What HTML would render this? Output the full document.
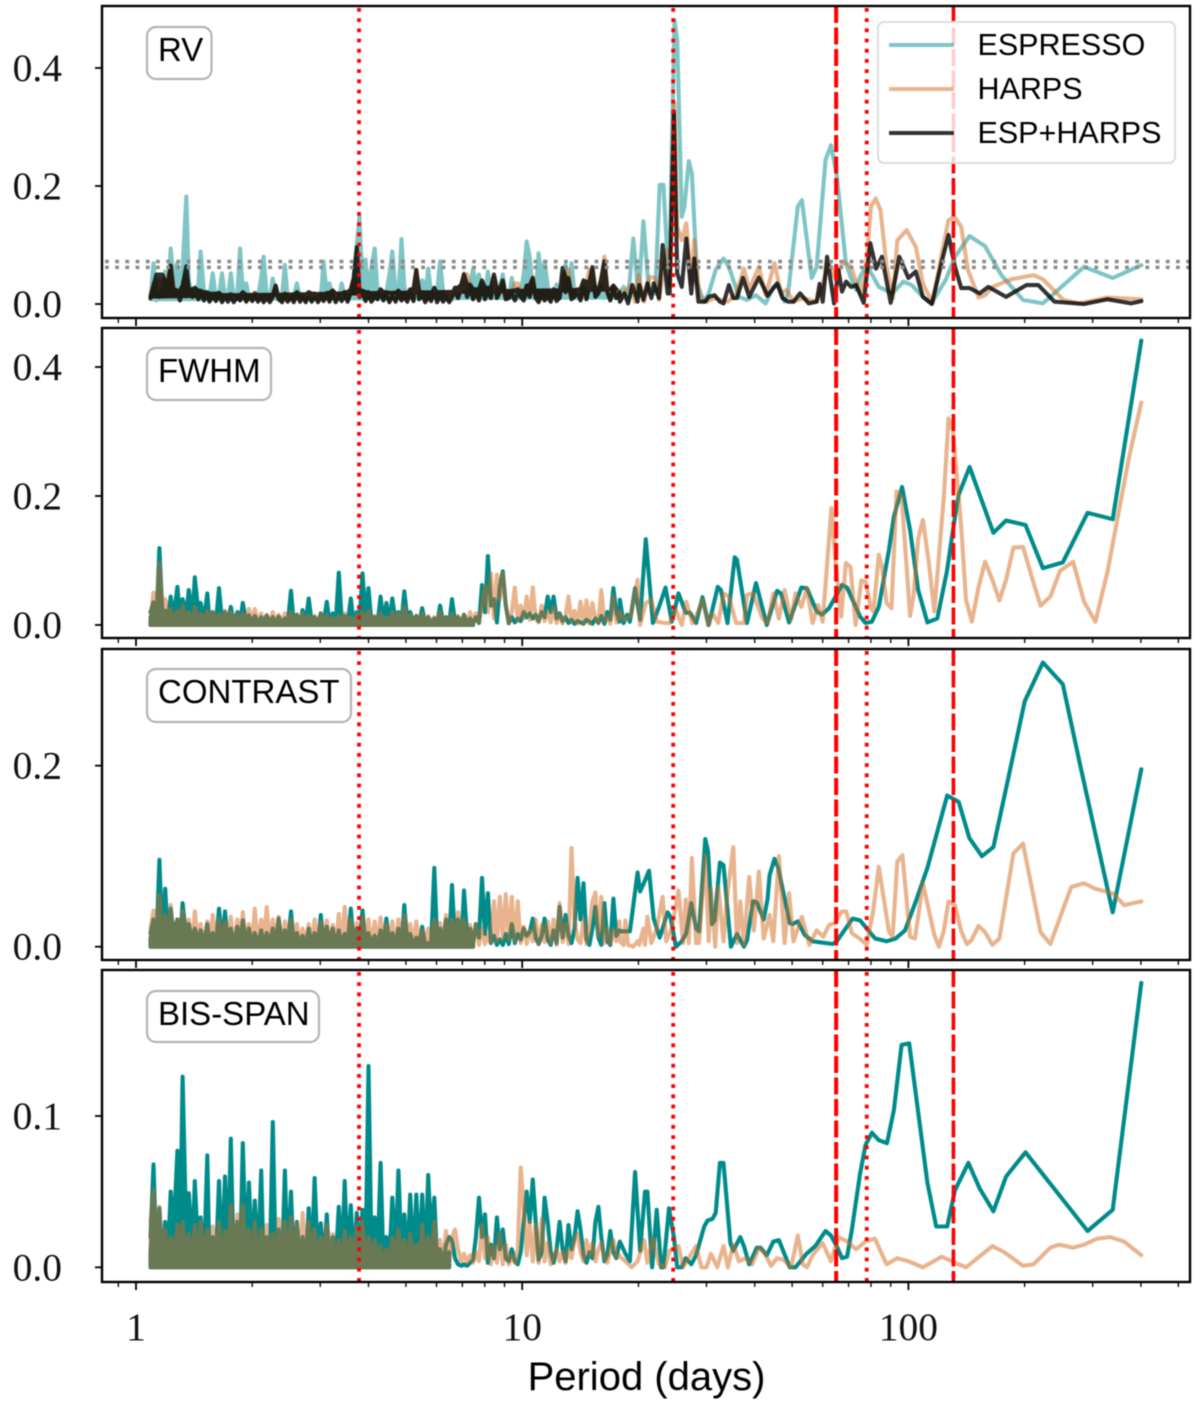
<!DOCTYPE html>
<html lang="en">
<head>
<meta charset="utf-8">
<title>Periodograms of RV, FWHM, contrast and BIS-SPAN</title>
<style>
html,body{margin:0;padding:0;background:#fff;width:1200px;height:1407px;overflow:hidden}
svg{display:block;filter:blur(0.45px)}
</style>
</head>
<body>
<svg id="figure" xmlns="http://www.w3.org/2000/svg" width="1200" height="1407" viewBox="0 0 1200 1407"></svg>
<script>
/* Period grid for the densely sampled short-period part (days) */
const densePeriods = [
1.09,1.11,1.13,1.15,1.17,1.19,1.21,1.23,1.25,1.28,
1.30,1.32,1.35,1.37,1.40,1.42,1.45,1.47,1.50,1.53,
1.55,1.58,1.61,1.64,1.67,1.70,1.73,1.76,1.79,1.83,
1.86,1.89,1.93,1.96,2.00,2.03,2.07,2.11,2.14,2.18,
2.22,2.26,2.30,2.34,2.39,2.43,2.47,2.52,2.56,2.61,
2.66,2.70,2.75,2.80,2.85,2.90,2.96,3.01,3.06,3.12,
3.17,3.23,3.29,3.35,3.41,3.47,3.53,3.60,3.66,3.73,
3.79,3.86,3.93,4.00,4.07,4.15,4.22,4.30,4.37,4.45,
4.53,4.61,4.70,4.78,4.87,4.95,5.04,5.13,5.23,5.32,
5.41,5.51,5.61,5.71,5.81,5.92,6.02,6.13,6.24,6.35,
6.47,6.58,6.70,6.82,6.95,7.07,7.20,7.33,7.46,7.59,
7.73,7.87,8.01,8.15,8.30,8.45,8.60,8.75,8.91,9.07,
9.23,9.40,9.57,9.74,9.91,10.09,10.27,10.46,10.65,10.84,
11.03,11.23,11.43,11.64,11.85,12.06,12.28,12.5,12.72,12.95,
13.18,13.42,13.66,13.91,14.16,14.41,14.67,14.93,15.2,15.47,
15.75,16.03,16.32,16.61,16.91,17.22,17.53,17.85];

/* ---------- RV ---------- */
const rvEspressoDense = [
.01,.069,.006,.02,.012,.055,.02,.094,.045,.07,
.02,.06,.182,.04,.01,.025,.032,.089,.02,.015,
.012,.052,.01,.015,.052,.012,.01,.052,.012,.02,
.094,.02,.035,.01,.012,.015,.012,.045,.08,.015,
.01,.043,.01,.012,.015,.066,.01,.01,.012,.035,
.01,.012,.008,.01,.01,.008,.012,.01,.072,.012,
.035,.01,.012,.01,.035,.012,.015,.012,.03,.1,
.148,.02,.075,.01,.06,.094,.02,.012,.015,.02,
.05,.089,.02,.012,.11,.03,.012,.02,.012,.01,
.012,.04,.012,.06,.02,.01,.02,.072,.02,.01,
.008,.01,.012,.015,.01,.02,.012,.03,.06,.03,
.05,.015,.012,.055,.02,.012,.02,.03,.05,.012,
.01,.044,.012,.01,.02,.05,.106,.08,.02,.015,
.086,.04,.072,.03,.012,.015,.033,.012,.02,.066,
.02,.069,.02,.01,.012,.03,.012,.02,.01,.03,
.012,.03,.01,.02,.012,.03,.01,.014];
const rvEspressoLong = [[17.9,.015],[18.3,.029],[18.8,.007],[19.4,.111],[20,.012],[20.6,.14],[21.3,.018],[22.1,.018],[22.7,.202],[23.2,.202],[24,.029],[24.8,.481],[25.2,.447],[25.9,.148],[26.3,.165],[27,.242],[27.5,.221],[28.4,.035],[29.5,.004],[30.4,.018],[31.7,.058],[33.2,.077],[34.3,.063],[36.4,.012],[38.2,.007],[40.3,.015],[42.7,.001],[44.7,.029],[46.2,.032],[47.8,.004],[48.8,.018],[51.7,.165],[53,.176],[56.2,.044],[57.9,.063],[61,.244],[63,.269],[65.2,.219],[68.9,.069],[71,.044],[73.2,.024],[75,.046],[78,.066],[83.8,.029],[91,.018],[97,.038],[102,.032],[108,.015],[114.7,.001],[125,.041],[132,.08],[144,.115],[158,.098],[174,.049],[198,.007],[223,.001],[285,.063],[338,.044],[401,.066]];

const rvHarpsDense = [
.012,.035,.03,.04,.035,.045,.025,.066,.03,.02,
.012,.03,.05,.02,.014,.025,.012,.02,.01,.018,
.006,.016,.008,.018,.006,.015,.008,.016,.006,.014,
.008,.018,.006,.016,.008,.02,.006,.014,.005,.012,
.006,.015,.03,.01,.005,.018,.006,.015,.005,.02,
.006,.015,.005,.02,.006,.018,.005,.015,.008,.018,
.006,.024,.005,.018,.008,.02,.006,.024,.04,.03,
.015,.022,.008,.02,.006,.015,.012,.024,.008,.02,
.005,.018,.006,.022,.008,.016,.006,.024,.008,.058,
.012,.02,.005,.016,.008,.026,.005,.018,.006,.015,
.005,.016,.028,.012,.03,.052,.05,.03,.01,.024,
.008,.036,.01,.026,.012,.046,.012,.024,.036,.01,
.012,.02,.035,.035,.015,.008,.03,.015,.046,.012,
.005,.02,.008,.016,.006,.024,.008,.012,.05,.024,
.058,.012,.016,.024,.008,.036,.01,.058,.058,.016,
.022,.04,.08,.024,.008,.03,.012,.024];
const rvHarpsLong = [[17.9,.007],[19,.032],[19.6,.004],[20,.049],[20.7,.004],[21.4,.046],[22.1,.044],[22.6,.007],[23.7,.092],[24.1,.035],[24.8,.34],[25.2,.131],[25.9,.108],[26.6,.137],[27.4,.035],[27.9,.108],[28.8,.012],[30,.004],[31.5,.01],[34,.004],[35.7,.015],[37.5,.06],[38.7,.024],[41,.063],[42.7,.015],[45,.069],[46.8,.018],[48.3,.024],[50.4,.004],[53.3,.01],[57.9,.004],[60,.035],[62.3,.069],[64.5,.046],[68,.072],[71,.063],[75,.018],[77.5,.052],[80,.165],[82.3,.179],[84.7,.159],[87.8,.063],[91.2,.01],[93.6,.108],[99,.125],[104.5,.097],[109,.035],[115.5,.001],[122,.086],[127,.142],[131.5,.148],[137,.131],[142.6,.058],[152,.011],[158,.015],[165,.029],[185,.042],[211,.049],[223,.042],[252,.007],[277,.001],[328,.011],[401,.008]];

const rvCombinedDense = [
.01,.025,.04,.012,.04,.015,.03,.052,.02,.018,
.006,.025,.051,.02,.012,.022,.008,.018,.006,.016,
.004,.014,.005,.015,.003,.012,.004,.013,.003,.012,
.006,.016,.004,.012,.005,.014,.004,.012,.003,.01,
.003,.012,.025,.008,.003,.014,.004,.012,.003,.016,
.004,.012,.003,.016,.004,.014,.003,.012,.005,.015,
.004,.018,.003,.014,.005,.016,.004,.02,.035,.077,
.012,.018,.005,.016,.004,.012,.008,.02,.006,.016,
.003,.015,.004,.018,.006,.012,.004,.02,.005,.046,
.008,.016,.003,.012,.005,.022,.003,.014,.004,.012,
.003,.012,.022,.01,.026,.04,.012,.026,.008,.02,
.006,.032,.008,.022,.01,.04,.01,.02,.032,.008,
.01,.018,.006,.02,.012,.006,.025,.012,.035,.01,
.003,.015,.006,.012,.004,.02,.005,.01,.049,.02,
.035,.008,.012,.02,.006,.032,.008,.03,.05,.012,
.018,.035,.058,.02,.006,.025,.01,.02];
const rvCombinedLong = [[17.9,.004],[18.4,.018],[18.8,.001],[19.3,.032],[19.9,.004],[20.1,.032],[20.6,.007],[21.1,.035],[21.6,.01],[21.9,.035],[22.6,.01],[23.1,.1],[23.8,.018],[24.1,.018],[24.7,.326],[25.2,.052],[25.9,.029],[26.6,.111],[27.4,.018],[27.9,.077],[28.6,.004],[29.8,.004],[30.4,.012],[31.5,.015],[32.5,.004],[33.2,.001],[34.3,.032],[35.2,.01],[36,.01],[37.3,.044],[38.7,.012],[41,.045],[43.2,.014],[45.7,.035],[47.2,.01],[48.8,.004],[50.4,.004],[52.4,.018],[55.2,.001],[57.9,.004],[58.9,.034],[60,.004],[61.6,.08],[64.2,.001],[65.9,.058],[67.3,.021],[69,.038],[71,.029],[73.2,.032],[76.6,.002],[79.7,.103],[82.5,.06],[85.4,.08],[90,.002],[94.7,.08],[100,.044],[104.5,.055],[109,.012],[115,0],[122,.072],[127,.117],[132,.063],[137,.027],[144,.027],[153,.018],[161,.029],[179,.012],[202,.032],[217,.032],[239,.004],[285,0],[328,.008],[377,.001],[401,.005]];

/* ---------- FWHM ---------- */
const fwhmEspressoDense = [
.02,.035,.008,.119,.02,.022,.012,.044,.01,.059,
.012,.04,.018,.054,.01,.074,.02,.034,.008,.049,
.005,.02,.004,.057,.006,.02,.004,.028,.003,.02,
.004,.034,.003,.015,.004,.014,.003,.012,.002,.015,
.003,.012,.002,.013,.003,.01,.002,.053,.004,.016,
.002,.023,.003,.041,.004,.012,.003,.018,.002,.036,
.004,.018,.003,.081,.008,.014,.002,.041,.003,.02,
.006,.08,.01,.057,.004,.012,.002,.044,.003,.034,
.004,.041,.006,.02,.005,.052,.01,.02,.004,.014,
.003,.026,.002,.012,.003,.01,.002,.03,.004,.012,
.002,.04,.005,.012,.002,.016,.003,.01,.002,.012,
.003,.062,.02,.107,.03,.04,.004,.06,.083,.03,
.003,.012,.004,.01,.006,.02,.012,.018,.01,.016,
.006,.02,.012,.044,.02,.044,.01,.018,.006,.012,
.003,.008,.002,.006,.004,.002,.008,.005,.002,.01,
.003,.014,.002,.02,.008,.057,.02,.005];
const fwhmEspressoLong = [[17.9,.039],[18.3,.003],[18.7,.016],[19,.005],[19.6,.057],[20.2,.008],[20.9,.133],[21.8,.003],[22.6,.028],[23.5,.058],[24.4,.005],[25.4,.049],[26.5,.019],[27.2,.019],[28.2,.003],[29.3,.043],[30.4,0],[32.1,.059],[32.7,.054],[34,.003],[35.5,.105],[36,.101],[38.2,.003],[40.3,.065],[43,0],[45.7,.053],[46.8,.049],[49.1,.004],[52.8,.058],[54.6,.057],[57.9,.021],[59.7,.016],[62.3,.026],[65.2,.047],[67.3,.062],[69.4,.058],[75,.013],[77.5,.003],[80.4,.005],[83.8,.028],[89,.116],[91.7,.168],[96.3,.214],[101,.147],[106,.054],[112,.004],[118.8,.01],[125.8,.083],[132,.168],[135,.202],[144,.245],[166,.143],[179,.162],[201,.155],[223,.088],[251,.097],[291,.174],[338,.164],[401,.441]];

const fwhmHarpsDense = [
.01,.05,.02,.096,.03,.04,.012,.025,.005,.022,
.003,.03,.006,.02,.004,.028,.003,.018,.002,.022,
.002,.02,.003,.018,.002,.022,.001,.02,.002,.016,
.001,.018,.002,.025,.003,.025,.002,.018,.001,.015,
.002,.02,.001,.016,.003,.018,.002,.02,.001,.016,
.002,.018,.001,.015,.002,.014,.001,.018,.002,.015,
.001,.012,.002,.014,.001,.018,.002,.012,.001,.016,
.002,.02,.003,.022,.002,.014,.001,.018,.002,.012,
.002,.02,.001,.018,.003,.028,.002,.016,.001,.014,
.002,.018,.001,.014,.002,.012,.001,.02,.003,.012,
.001,.018,.002,.014,.003,.016,.001,.02,.002,.018,
.004,.03,.06,.02,.08,.01,.078,.04,.08,.03,
.002,.02,.058,.006,.03,.01,.044,.008,.058,.01,
.004,.03,.006,.02,.004,.028,.003,.016,.002,.014,
.044,.004,.022,.002,.036,.002,.038,.002,.034,.01,
.003,.054,.006,.012,.002,.044,.004,.012];
const fwhmHarpsLong = [[17.9,.021],[18.3,.008],[19.1,.013],[19.9,.07],[20.2,0],[20.9,.034],[21.6,.039],[22.3,.005],[23.4,.003],[24.1,.003],[25,.023],[25.9,0],[26.6,.036],[27.6,.003],[28.2,.013],[29.3,.039],[30.3,0],[31.1,.018],[32.2,.003],[33.2,.049],[34.3,.044],[35.8,.003],[37.5,.003],[38.2,.047],[39.6,.049],[41.9,.01],[43.2,.003],[44.7,.049],[46.2,.01],[47.8,.054],[49.7,.008],[51,.049],[52.8,.028],[54.6,.057],[56.5,.003],[58.4,.031],[60,.005],[63.2,.181],[64.8,.096],[67,.013],[68.9,.096],[70.8,.09],[73,0],[75.5,.069],[77.5,.067],[80,.026],[81.2,.021],[83.8,.109],[85.6,.088],[87.8,.034],[90.4,.026],[93.2,.207],[96,.199],[101,.014],[103,.044],[106,.134],[109,.163],[113,.096],[116.7,.021],[123.6,.199],[127,.32],[130.4,.302],[137,.152],[141,.039],[146,.005],[152,.059],[158,.098],[165,.07],[172,.038],[179,.07],[187,.12],[198,.121],[211,.065],[220,.03],[233,.044],[247,.084],[267,.098],[285,.036],[305,.005],[328,.083],[351,.178],[373,.261],[401,.345]];

/* ---------- CONTRAST ---------- */
const contrastEspressoDense = [
.015,.03,.005,.096,.01,.064,.008,.042,.015,.03,
.004,.048,.01,.025,.003,.02,.005,.018,.003,.025,
.003,.015,.002,.042,.004,.039,.003,.02,.002,.022,
.003,.029,.002,.02,.003,.015,.002,.018,.002,.015,
.003,.02,.002,.031,.003,.018,.002,.039,.003,.015,
.002,.012,.001,.02,.002,.015,.002,.035,.003,.022,
.004,.02,.002,.018,.003,.014,.002,.042,.004,.02,
.003,.04,.002,.015,.003,.012,.001,.018,.002,.031,
.002,.015,.003,.02,.002,.046,.004,.014,.001,.01,
.002,.022,.001,.004,.002,.087,.008,.02,.004,.03,
.003,.068,.006,.03,.002,.062,.012,.02,.004,.025,
.01,.076,.014,.059,.004,.012,.002,.008,.002,.014,
.003,.025,.004,.014,.008,.02,.012,.016,.031,.01,
.003,.012,.031,.008,.002,.018,.004,.044,.01,.035,
.012,.004,.02,.076,.03,.07,.008,.002,.02,.044,
.01,.002,.048,.006,.002,.053,.012,.018];
const contrastEspressoLong = [[17.9,.017],[19,.017],[19.9,.082],[20.2,.061],[20.7,.071],[21.3,.084],[21.9,.031],[22.7,.01],[23.8,.038],[24.2,.033],[25,0],[25.9,.006],[26.6,.015],[27.4,.048],[28.2,.02],[28.7,.017],[29.8,.119],[30.3,.105],[31,.025],[31.5,.029],[32.5,.093],[33.2,.09],[34.7,0],[36,.014],[37.5,0],[38.2,.007],[39.6,.05],[40.5,.049],[42.2,.03],[43.2,.053],[43.7,.079],[45,.097],[46,.087],[49.3,.026],[50.2,.025],[51.7,.028],[53.9,.013],[56.5,.006],[63.7,.003],[65.2,.006],[71.7,.031],[75,.029],[82,.009],[87.8,.006],[92.7,.009],[98,.018],[104.5,.05],[112,.087],[126,.167],[135,.16],[143.9,.12],[155,.1],[166,.11],[179,.175],[200,.271],[223,.314],[251,.29],[279,.199],[338,.038],[401,.196]];

const contrastHarpsDense = [
.02,.04,.006,.057,.003,.035,.002,.046,.001,.03,
.002,.04,.001,.03,.003,.039,.001,.025,.002,.028,
.001,.035,.002,.03,.001,.027,.002,.033,.001,.03,
.002,.038,.001,.025,.003,.042,.001,.03,.002,.044,
.001,.03,.002,.033,.001,.028,.003,.03,.002,.025,
.001,.02,.002,.025,.001,.03,.002,.027,.001,.029,
.002,.024,.003,.036,.001,.044,.002,.03,.001,.026,
.002,.032,.003,.03,.001,.028,.002,.032,.003,.025,
.002,.028,.001,.03,.002,.035,.001,.025,.002,.028,
.001,.018,.002,.02,.003,.03,.001,.026,.002,.035,
.003,.03,.001,.038,.002,.03,.001,.024,.002,.025,
.002,.02,.003,.012,.004,.05,.006,.055,.008,.058,
.008,.055,.006,.05,.004,.022,.003,.018,.006,.03,
.003,.024,.005,.028,.004,.03,.002,.048,.005,.025,
.003,.109,.03,.008,.004,.03,.003,.02,.05,.06,
.012,.055,.004,.02,.003,.018,.006,.028];
const contrastHarpsLong = [[17.9,.006],[18.3,.002],[18.5,.029],[18.8,.002],[19.4,0],[19.9,.006],[20.1,.002],[20.6,.02],[20.8,.002],[21.1,.033],[21.6,.004],[22.3,.02],[23.1,.055],[23.6,.006],[24.4,.02],[25.4,.062],[26.1,.004],[26.5,.052],[27,.004],[27.5,.098],[28.2,.004],[28.7,.004],[29.8,.101],[30.4,.006],[30.8,.064],[31.6,0],[32.2,.066],[33.2,.006],[34,.059],[35.2,.11],[36,.004],[36.7,.05],[37.5,.002],[38.7,.077],[39.8,.018],[41,.083],[42.2,.009],[43.7,.035],[44.7,.006],[46.2,.1],[47.8,.004],[49.1,.059],[50.4,.006],[53,.033],[55.4,.002],[57.9,.018],[60.2,.011],[62.3,.024],[64.5,.026],[67.3,.039],[69,.039],[71.4,.015],[75.8,.007],[78,.002],[81,.039],[83.8,.088],[89,.017],[91,.011],[93.6,.094],[96.5,.101],[101,.011],[104,.009],[109,.07],[116.7,.013],[120,0],[123.6,.018],[127,.05],[132,.046],[137,.017],[141.7,.003],[145.5,.007],[152,.023],[158,.016],[165,.002],[172,.009],[187,.103],[198,.114],[220,.016],[233,.003],[264,.066],[285,.07],[305,.064],[338,.059],[362,.046],[401,.05]];

/* ---------- BIS-SPAN ---------- */
const bisEspressoDense = [
.02,.068,.004,.039,.003,.03,.008,.05,.02,.077,
.012,.126,.02,.049,.01,.057,.008,.033,.004,.074,
.002,.02,.003,.057,.004,.06,.003,.085,.002,.03,
.003,.082,.002,.056,.004,.044,.002,.064,.003,.02,
.002,.096,.001,.025,.003,.064,.002,.05,.003,.03,
.002,.02,.001,.039,.003,.059,.002,.029,.001,.035,
.002,.02,.004,.04,.001,.057,.003,.041,.002,.036,
.005,.038,.006,.133,.012,.033,.004,.069,.003,.02,
.004,.046,.006,.064,.01,.035,.004,.048,.003,.048,
.004,.048,.003,.061,.02,.046,.004,.012,.002,.015,
.02,.018,.006,.002,.001,.002,.001,.003,.005,.02,
.046,.02,.035,.003,.015,.006,.033,.012,.025,.006,
.004,.012,.004,.002,.01,.03,.05,.03,.058,.03,
.005,.01,.046,.03,.01,.003,.012,.03,.012,.004,
.028,.012,.02,.037,.025,.008,.003,.01,.006,.03,
.04,.02,.004,.008,.024,.01,.006,.016];
const bisEspressoLong = [[17.9,.017],[18.5,.009],[19,.004],[19.6,.063],[20.2,.011],[20.8,.05],[21.1,.05],[21.7,0],[22.3,.038],[22.9,0],[23.2,0],[24,.039],[24.7,.02],[25.2,0],[25.9,0],[26.5,.006],[27.4,.002],[28.2,.008],[29.6,.027],[30.2,.031],[31.1,.032],[31.7,.036],[32.5,.069],[33.2,.069],[34.6,.016],[35.2,.011],[36.7,.02],[37.5,.014],[38.7,.002],[40.5,.013],[41.4,.013],[43,.008],[44.7,.017],[46.2,.018],[49.3,0],[51,0],[54.5,.009],[57.4,.014],[61,.024],[63,.021],[65.2,.014],[67.3,.006],[69.4,.007],[71.4,.025],[75,.062],[77.5,.081],[80.5,.089],[83.8,.084],[88,.082],[91.7,.104],[96,.147],[100.5,.148],[112,.056],[118,.027],[126,.027],[132,.051],[143,.069],[153,.052],[166,.037],[179,.06],[201,.076],[291,.024],[338,.038],[401,.188]];

const bisHarpsDense = [
.03,.051,.004,.04,.003,.025,.002,.02,.001,.028,
.002,.03,.001,.022,.003,.028,.001,.03,.002,.025,
.001,.027,.002,.03,.001,.024,.003,.041,.001,.035,
.002,.041,.001,.025,.002,.03,.001,.025,.003,.028,
.001,.022,.002,.032,.001,.03,.002,.033,.001,.029,
.002,.036,.001,.03,.002,.025,.001,.02,.003,.028,
.001,.022,.002,.018,.001,.024,.002,.02,.001,.027,
.002,.03,.001,.02,.003,.018,.002,.014,.001,.012,
.002,.02,.001,.025,.002,.018,.001,.022,.003,.015,
.001,.028,.002,.02,.001,.03,.002,.018,.001,.024,
.003,.02,.025,.012,.004,.009,.003,.008,.003,.01,
.004,.028,.006,.02,.002,.014,.003,.022,.002,.015,
.002,.008,.003,.012,.066,.04,.008,.03,.004,.028,
.003,.032,.004,.016,.002,.006,.012,.004,.01,.003,
.012,.006,.018,.022,.01,.004,.018,.008,.016,.004,
.012,.016,.006,.003,.012,.018,.006,.008];
const bisHarpsLong = [[17.9,.007],[18.5,.004],[19.2,0],[19.9,.004],[20.7,.018],[21.1,.003],[21.8,.019],[22.6,.002],[23.4,0],[24.1,.011],[25.4,.014],[26.1,0],[28.2,.014],[29.1,0],[30,0],[30.8,.009],[32,0],[33.2,.014],[34.1,0],[35.2,.015],[36.4,.004],[37.9,.006],[39.4,.002],[41,.013],[42.5,.009],[44.1,.001],[45.7,.006],[47.5,.005],[49.7,0],[51.7,.021],[53.3,.002],[54.6,0],[56.5,.008],[60,.016],[63,.004],[65.9,.02],[69.4,.017],[73.2,.012],[77.5,.017],[81.9,.019],[87.8,.002],[93.6,.006],[100,.004],[109,0],[122,.007],[132,.003],[141,0],[165,.014],[177,.01],[198,.001],[211,.002],[233,.013],[246,.015],[267,.013],[285,.015],[308,.019],[333,.02],[362,.017],[401,.008]];

/* ---------- Axis data ---------- */
const xMajorTicks = [1,10,100];
const xMajorLabels = ['1','10','100'];
const xMinorTicks = [0.9,2,3,4,5,6,7,8,9,20,30,40,50,60,70,80,90,200,300,400,500];
const dottedPeriods = [3.78,24.6,78];
const dashedPeriods = [65,130.8];
const rvThresholds = [0.072,0.062];
const rvTicks = [0,0.2,0.4];
const rvTickLabels = ['0.0','0.2','0.4'];
const fwhmTicks = [0,0.2,0.4];
const fwhmTickLabels = ['0.0','0.2','0.4'];
const contrastTicks = [0,0.2];
const contrastTickLabels = ['0.0','0.2'];
const bisTicks = [0,0.1];
const bisTickLabels = ['0.0','0.1'];
const legendLabels = ['ESPRESSO','HARPS','ESP+HARPS'];

const NS = 'http://www.w3.org/2000/svg';
const fig = document.getElementById('figure');
function add(tag, attrs, parent){
  const el = document.createElementNS(NS, tag);
  for (const k in attrs) el.setAttribute(k, attrs[k]);
  (parent || fig).appendChild(el);
  return el;
}
const SERIF = '"Liberation Serif", serif';
const SANS = '"Liberation Sans", sans-serif';
const TEAL = '#008b8b';
const TAN = '#d2691e';
const DARK = '#000000';
const LINE_WIDTH = 4.1;

const xLeft = 102, xRight = 1190;
function xScale(p){ return 136 + 386.2 * Math.log10(p); }

function mergeSeries(dense, long){
  const pts = [];
  for (let i = 0; i < dense.length && i < densePeriods.length; i++) pts.push([densePeriods[i], dense[i]]);
  for (const pair of long) pts.push(pair);
  return pts;
}

/* The short-period forest is unresolved in the figure: the gaps between neighbouring
   peaks close up, so its solid lower part is filled up to a share of the lower peak envelope. */
function bandLevels(dense, end, share){
  const levels = [];
  const last = Math.min(end, dense.length - 1);
  for (let i = 0; i <= last; i++) {
    const a = Math.max(i > 0 ? dense[i-1] : dense[i], dense[i]);
    const b = Math.max(dense[i], dense[i+1]);
    levels.push([densePeriods[i], Math.min(a, b) * share]);
  }
  return levels;
}

const panels = [
  {key:'rv', label:'RV', top:6, bottom:318, ymin:-0.0237, ymax:0.505, ticks:rvTicks, tickLabels:rvTickLabels,
   boxRight:211.5, boxTop:27, boxBottom:79, textY:61,
   series:[
     {name:'espresso', dense:rvEspressoDense, long:rvEspressoLong, color:TEAL, opacity:0.5, bandEnd:157, share:0.8},
     {name:'harps', dense:rvHarpsDense, long:rvHarpsLong, color:TAN, opacity:0.5, bandEnd:157, share:1},
     {name:'esp-harps', dense:rvCombinedDense, long:rvCombinedLong, color:DARK, opacity:0.8, bandEnd:157, share:1.25}
   ]},
  {key:'fwhm', label:'FWHM', top:328, bottom:638, ymin:-0.0202, ymax:0.4605, ticks:fwhmTicks, tickLabels:fwhmTickLabels,
   boxRight:271, boxTop:348, boxBottom:400, textY:382,
   series:[
     {name:'espresso', dense:fwhmEspressoDense, long:fwhmEspressoLong, color:TEAL, opacity:1, bandEnd:108, share:0.6},
     {name:'harps', dense:fwhmHarpsDense, long:fwhmHarpsLong, color:TAN, opacity:0.5, bandEnd:108, share:0.7}
   ]},
  {key:'contrast', label:'CONTRAST', top:649, bottom:960, ymin:-0.0147, ymax:0.3289, ticks:contrastTicks, tickLabels:contrastTickLabels,
   boxRight:351, boxTop:669, boxBottom:722, textY:703,
   series:[
     {name:'espresso', dense:contrastEspressoDense, long:contrastEspressoLong, color:TEAL, opacity:1, bandEnd:108, share:0.6},
     {name:'harps', dense:contrastHarpsDense, long:contrastHarpsLong, color:TAN, opacity:0.5, bandEnd:108, share:0.65}
   ]},
  {key:'bis-span', label:'BIS-SPAN', top:970, bottom:1282, ymin:-0.0097, ymax:0.1965, ticks:bisTicks, tickLabels:bisTickLabels,
   boxRight:319, boxTop:991, boxBottom:1042, textY:1025,
   series:[
     {name:'espresso', dense:bisEspressoDense, long:bisEspressoLong, color:TEAL, opacity:1, bandEnd:100, share:0.5},
     {name:'harps', dense:bisHarpsDense, long:bisHarpsLong, color:TAN, opacity:0.5, bandEnd:100, share:0.7}
   ]}
];

const defs = add('defs', {});
panels.forEach(function(panel){
  const yScale = function(v){
    return panel.bottom - (v - panel.ymin) / (panel.ymax - panel.ymin) * (panel.bottom - panel.top);
  };
  const clipId = 'clip-' + panel.key;
  const clip = add('clipPath', {id:clipId}, defs);
  add('rect', {x:xLeft, y:panel.top, width:xRight-xLeft, height:panel.bottom-panel.top}, clip);

  const g = add('g', {});
  
  
  const plot = add('g', {'clip-path':'url(#' + clipId + ')'}, g);

  panel.series.forEach(function(s){
    const group = add('g', {opacity:s.opacity}, plot);
    
    

    const levels = bandLevels(s.dense, s.bandEnd, s.share);
    const bandPts = levels.map(function(d){
      return xScale(d[0]).toFixed(1) + ',' + yScale(d[1]).toFixed(1);
    });
    bandPts.push(xScale(levels[levels.length-1][0]).toFixed(1) + ',' + yScale(0).toFixed(1));
    bandPts.push(xScale(levels[0][0]).toFixed(1) + ',' + yScale(0).toFixed(1));
    const band = add('polygon', {points:bandPts.join(' '), fill:s.color, stroke:s.color, 'stroke-width':LINE_WIDTH, 'stroke-linejoin':'round'}, group);
    
    

    const pts = mergeSeries(s.dense, s.long).map(function(d){
      return xScale(d[0]).toFixed(1) + ',' + yScale(d[1]).toFixed(1);
    }).join(' ');
    const line = add('polyline', {points:pts, fill:'none', stroke:s.color, 'stroke-width':LINE_WIDTH, 'stroke-linejoin':'round', 'stroke-linecap':'round'}, group);
    
    
  });

  if (panel.key === 'rv') {
    rvThresholds.forEach(function(v){
      const th = add('line', {x1:xLeft, x2:xRight, y1:yScale(v), y2:yScale(v), stroke:'#8c8c8c', 'stroke-width':3.5, 'stroke-dasharray':'3.8 6.4', 'stroke-dashoffset':'-3'}, plot);
      
      
    });
  }

  dottedPeriods.forEach(function(p){
    const v = add('line', {x1:xScale(p), x2:xScale(p), y1:panel.top, y2:panel.bottom, stroke:'#ff0000', 'stroke-width':3.8, 'stroke-dasharray':'3.8 6.4', 'stroke-dashoffset':'-2'}, plot);
    
    
  });
  dashedPeriods.forEach(function(p, i){
    const v = add('line', {x1:xScale(p), x2:xScale(p), y1:panel.top, y2:panel.bottom, stroke:'#ff0000', 'stroke-width':i === 0 ? 4 : 3.6, 'stroke-dasharray':'17 4.5'}, plot);
    
    
  });

  const spine = add('rect', {x:xLeft, y:panel.top, width:xRight-xLeft, height:panel.bottom-panel.top, fill:'none', stroke:'#000', 'stroke-width':2.4}, g);
  
  

  panel.ticks.forEach(function(v, i){
    const y = yScale(v);
    const t = add('line', {x1:xLeft-7, x2:xLeft, y1:y, y2:y, stroke:'#000', 'stroke-width':1.8}, g);
    
    
    const lab = add('text', {x:62, y:y+13, 'text-anchor':'end', 'font-family':SERIF, 'font-size':39.5, fill:'#111'}, g);
    lab.textContent = panel.tickLabels[i];
    
    
  });

  xMajorTicks.forEach(function(p){
    const t = add('line', {x1:xScale(p), x2:xScale(p), y1:panel.bottom, y2:panel.bottom+8, stroke:'#000', 'stroke-width':1.8}, g);
    
    
  });
  xMinorTicks.forEach(function(p){
    const t = add('line', {x1:xScale(p), x2:xScale(p), y1:panel.bottom, y2:panel.bottom+5, stroke:'#000', 'stroke-width':1.3}, g);
    
    
  });

  const box = add('rect', {x:147, y:panel.boxTop, width:panel.boxRight-147, height:panel.boxBottom-panel.boxTop, rx:9, ry:9, fill:'#fff', 'fill-opacity':0.9, stroke:'#b4b4b4', 'stroke-width':2.2}, g);
  
  
  const title = add('text', {x:158, y:panel.textY, 'font-family':SANS, 'font-size':33, fill:'#000'}, g);
  title.textContent = panel.label;
  
  
});

xMajorTicks.forEach(function(p, i){
  const lab = add('text', {x:xScale(p), y:1340, 'text-anchor':'middle', 'font-family':SERIF, 'font-size':39.5, fill:'#111'});
  lab.textContent = xMajorLabels[i];
  
  
});
const xTitle = add('text', {x:646.5, y:1390, 'text-anchor':'middle', 'font-family':SANS, 'font-size':40, fill:'#000'});
xTitle.textContent = 'Period (days)';



/* Legend */
const legend = add('g', {});


const legendBox = add('rect', {x:878, y:22, width:297, height:141, rx:6, ry:6, fill:'#fff', 'fill-opacity':0.8, stroke:'#dcdcdc', 'stroke-width':2}, legend);


const legendSwatches = [{c:TEAL,o:0.5},{c:TAN,o:0.5},{c:DARK,o:0.8}];
legendLabels.forEach(function(txt, i){
  const y = 45 + 44 * i;
  const sw = add('line', {x1:889, x2:954, y1:y, y2:y, stroke:legendSwatches[i].c, 'stroke-opacity':legendSwatches[i].o, 'stroke-width':LINE_WIDTH}, legend);
  
  
  const t = add('text', {x:977.5, y:y+10, 'font-family':SANS, 'font-size':30.5, fill:'#000'}, legend);
  t.textContent = txt;
  
  
});
</script>
</body>
</html>
